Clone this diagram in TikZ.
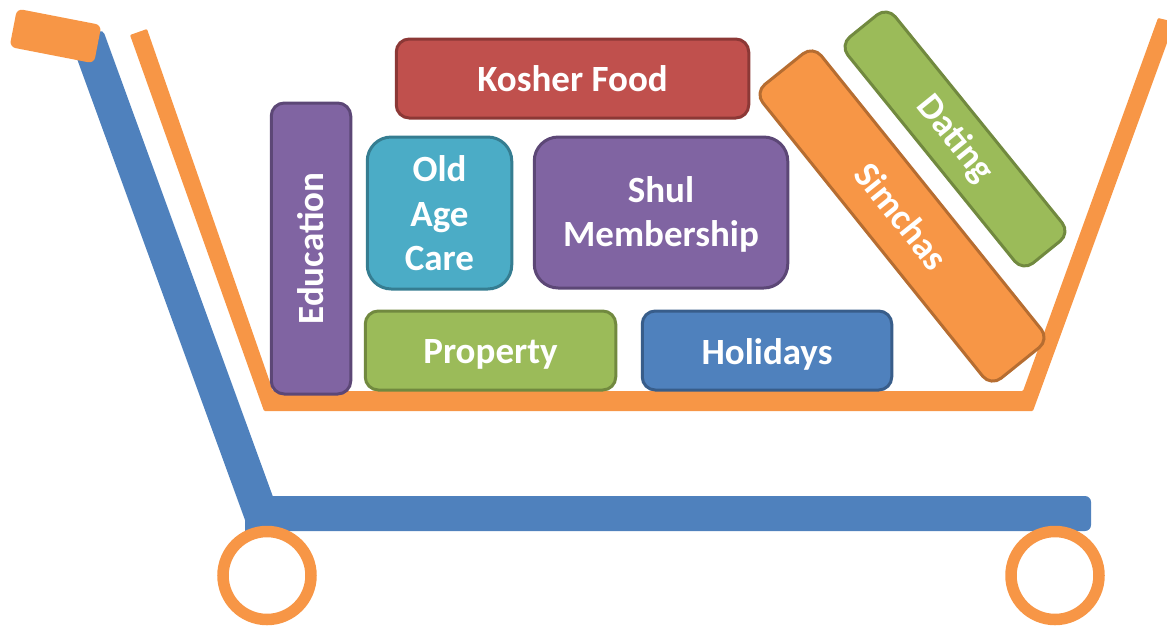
\documentclass[tikz,border=0pt]{standalone}
\usepackage{fontspec}
\setmainfont{Carlito}
\definecolor{cartorange}{HTML}{F79646}
\definecolor{cartblue}{HTML}{4F81BD}
\definecolor{boxred}{HTML}{C0504D}
\definecolor{boxredd}{HTML}{8C3836}
\definecolor{boxpurple}{HTML}{8064A2}
\definecolor{boxpurpled}{HTML}{5C4776}
\definecolor{boxteal}{HTML}{4BACC6}
\definecolor{boxteald}{HTML}{357D91}
\definecolor{boxgreen}{HTML}{9BBB59}
\definecolor{boxgreend}{HTML}{71893F}
\definecolor{boxblued}{HTML}{385D8A}
\definecolor{boxorangede}{HTML}{B66D31}
\newcommand{\dropbox}[2]{\raisebox{-#1}[\height][\depth]{#2}}
\tikzset{
  item/.style={rectangle,outer sep=0pt,inner sep=0pt,line width=3pt,rounded corners=13pt,
    text=white,align=center,font=\fontsize{37}{44.5}\selectfont\bfseries},
  bigitem/.style={item,rounded corners=24pt},
  cartpart/.style={fill=#1,draw=none},
  wheel/.style={circle,draw=cartorange,line width=11.5pt,fill=white,minimum size=88pt,inner sep=0pt,outer sep=0pt}
}
\begin{document}
\begin{tikzpicture}[x=1pt,y=-1pt]
\useasboundingbox (0,0) rectangle (1167,625);
\clip (0,0) rectangle (1167,625);
% basket
\fill[cartpart=cartorange,rounded corners=1pt] (130,35) -- (147,29) -- (273,391) -- (1023,391) -- (1158,18) -- (1175,22) -- (1175,20) -- (1167,43) -- (1033,411) -- (264,411) -- cycle;
% frame
\fill[cartpart=cartblue] (76,56) -- (92,34) [rounded corners=4pt] -- (103,30) [sharp corners] -- (272.7,496)
  [rounded corners=6pt] -- (1091,496) -- (1091,531) [sharp corners] -- (245,531) -- (245,520) -- cycle;
% handle
\node[name=handle,rectangle,rounded corners=6pt,fill=cartorange,minimum width=86pt,minimum height=39pt,
  inner sep=0pt,outer sep=0pt,rotate=-11] at (55.5,36) {};
% wheels
\node[wheel] (wheelL) at (267,575.5) {};
\node[wheel] (wheelR) at (1055,575.5) {};
% boxes
\node[item,draw=boxredd,fill=boxred,minimum width=352.5pt,minimum height=79pt] (kosher) at (572.5,78.5) {Kosher Food};
\node[item,draw=boxpurpled,fill=boxpurple,minimum width=79.5pt,minimum height=291pt] (education) at (311,248.5) {\rotatebox{90}{Education}};
\node[bigitem,draw=boxteald,fill=boxteal,minimum width=144.5pt,minimum height=152pt] (oldage) at (439.5,213) {Old\\\dropbox{1pt}{Age}\\Care};
\node[bigitem,draw=boxpurpled,fill=boxpurple,minimum width=253.5pt,minimum height=151pt] (shul) at (661,212.5) {\dropbox{3pt}{\begin{tabular}{@{}c@{}}Shul\\Membership\end{tabular}}};
\node[item,draw=boxgreend,fill=boxgreen,minimum width=250.5pt,minimum height=79pt] (property) at (490.5,350.5) {\dropbox{3.5pt}{Property}};
\node[item,draw=boxblued,fill=cartblue,minimum width=249.5pt,minimum height=79pt] (holidays) at (767,350.5) {\dropbox{3.5pt}{Holidays}};
\node[item,draw=boxorangede,fill=cartorange,minimum width=377pt,minimum height=75pt,rotate=-51.2] (simchas) at (902,216) {Simchas};
\node[item,draw=boxgreend,fill=boxgreen,minimum width=291pt,minimum height=61pt,rotate=-51] (dating) at (955,139) {Dating};
\end{tikzpicture}
\end{document}
